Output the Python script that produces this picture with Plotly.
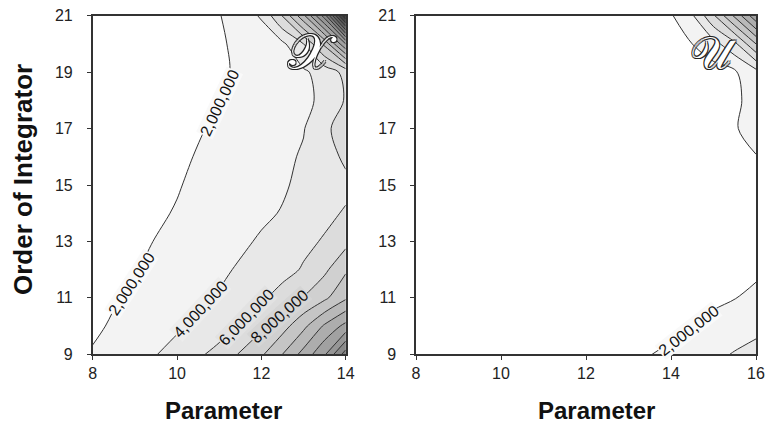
import numpy as np
import plotly.graph_objects as go

# ---------------- data (values in millions) ----------------
order_vals = [9, 10, 11, 12, 13, 14, 15, 16, 17, 18, 19, 20, 21]
param_left = [8, 9, 10, 11, 12, 12.5, 13, 13.5, 14]
param_right = [8, 10, 12, 13, 14, 14.5, 15, 15.5, 16]

z_left_m = [
    [2.15, 3.3, 4.6, 6.7, 9.7, 12.0, 14.7, 17.7, 23.0],   # 9
    [1.7, 2.7, 3.75, 5.0, 7.6, 9.2, 11.5, 14.3, 16.6],    # 10
    [1.45, 2.3, 3.3, 4.2, 5.7, 6.8, 8.1, 9.6, 11.7],      # 11
    [1.3, 1.9, 2.9, 3.6, 4.9, 5.3, 6.2, 7.6, 9.7],        # 12
    [1.15, 1.7, 2.4, 3.2, 4.2, 4.9, 5.5, 6.2, 7.4],       # 13
    [1.0, 1.5, 2.1, 2.9, 3.7, 4.1, 4.8, 5.5, 6.2],        # 14
    [0.9, 1.35, 1.9, 2.7, 3.4, 3.8, 4.4, 5.0, 5.5],       # 15
    [0.8, 1.2, 1.7, 2.5, 3.3, 3.6, 4.2, 5.1, 6.4],        # 16
    [0.7, 1.1, 1.6, 2.2, 3.1, 3.5, 3.9, 5.6, 6.9],        # 17
    [0.6, 1.0, 1.45, 2.0, 2.9, 3.4, 3.75, 4.25, 6.2],     # 18
    [0.55, 0.9, 1.3, 1.8, 2.6, 3.2, 3.7, 4.8, 6.6],       # 19
    [0.5, 0.8, 1.2, 1.8, 2.9, 3.6, 6.0, 10.5, 18.0],      # 20
    [0.5, 0.8, 1.2, 1.9, 4.2, 8.1, 13.5, 21.0, 34.0],     # 21
]

z_right_m = [
    [0.5, 0.7, 1.0, 1.5, 2.4, 2.8, 3.5, 4.15, 4.6],       # 9
    [0.4, 0.6, 0.9, 1.2, 1.5, 1.97, 2.4, 2.9, 3.5],       # 10
    [0.35, 0.5, 0.8, 1.0, 1.3, 1.5, 1.7, 1.95, 2.5],      # 11
    [0.3, 0.45, 0.7, 0.9, 1.1, 1.2, 1.35, 1.45, 1.6],     # 12
    [0.3, 0.4, 0.6, 0.8, 1.0, 1.1, 1.2, 1.3, 1.45],       # 13
    [0.3, 0.4, 0.55, 0.7, 0.9, 1.0, 1.1, 1.2, 1.4],       # 14
    [0.3, 0.4, 0.5, 0.65, 0.85, 0.95, 1.0, 1.1, 1.6],     # 15
    [0.3, 0.4, 0.5, 0.6, 0.8, 0.9, 1.0, 1.3, 1.95],       # 16
    [0.3, 0.4, 0.5, 0.6, 0.8, 0.9, 1.1, 1.9, 2.5],        # 17
    [0.3, 0.4, 0.5, 0.6, 0.8, 0.9, 1.1, 1.7, 2.6],        # 18
    [0.3, 0.4, 0.5, 0.6, 0.7, 0.9, 1.2, 1.75, 3.3],       # 19
    [0.3, 0.4, 0.5, 0.7, 1.3, 2.0, 3.3, 5.5, 10.0],       # 20
    [0.2, 0.3, 0.5, 0.9, 1.8, 3.75, 7.7, 12.4, 17.5],     # 21
]

# contour labels: text, panel, parameter, order, angle
label_text = ["2,000,000", "2,000,000", "4,000,000", "6,000,000", "8,000,000", "2,000,000"]
label_panel = ["left", "left", "left", "left", "left", "right"]
label_param = [11.0, 8.93, 10.55, 11.64, 12.43, 14.42]
label_order = [17.9, 11.5, 10.59, 10.3, 10.34, 9.85]
label_angle = [-65, -57, -47, -46, -42, -38]
label_bg = ["#f9f9f9", "#f9f9f9", "#ededed", "#e2e2e2", "#d5d5d5", "#f9f9f9"]

x_ticks_left = [8, 10, 12, 14]
x_ticks_right = [8, 10, 12, 14, 16]
y_ticks = [9, 11, 13, 15, 17, 19, 21]

z_left = np.array(z_left_m) * 1e6
z_right = np.array(z_right_m) * 1e6

# ---------------- styling ----------------
W, H = 767, 436
LINE = "#333333"
SMOOTH = 0.9
gray_scale = [[0.0, "#ffffff"], [0.5, "#8a8a8a"], [1.0, "#000000"]]
LEVEL = 2e6
TOP = 40e6
FONT = "Liberation Sans, Arial, sans-serif"


def fill_trace(x, z, xa, ya):
    return go.Contour(
        x=x, y=order_vals, z=z, xaxis=xa, yaxis=ya,
        autocontour=False,
        contours=dict(start=LEVEL, end=TOP, size=LEVEL, coloring="fill", showlines=True),
        colorscale=gray_scale, showscale=False,
        line=dict(width=1, color=LINE, smoothing=SMOOTH), hoverinfo="skip",
    )


fig = go.Figure()
fig.add_trace(fill_trace(param_left, z_left, "x", "y"))
fig.add_trace(fill_trace(param_right, z_right, "x2", "y2"))

left_dom = [92.7 / W, 345.7 / W]
right_dom = [416 / W, 756 / W]
y_dom = [(H - 354.3) / H, (H - 15.7) / H]

tickfont = dict(family=FONT, size=16, color="#222")
common = dict(showgrid=False, zeroline=False, showline=True, linecolor="#333", linewidth=1.5,
              mirror=True, ticks="outside", ticklen=4, tickwidth=1, tickcolor="#333",
              tickfont=tickfont, automargin=False)

fig.update_layout(
    width=W, height=H,
    margin=dict(l=0, r=0, t=0, b=0, autoexpand=False),
    paper_bgcolor="white", plot_bgcolor="white",
    showlegend=False,
    xaxis=dict(domain=left_dom, range=[8, 14], tickvals=x_ticks_left, anchor="y",
               ticklabelstandoff=0, **common),
    yaxis=dict(domain=y_dom, range=[9, 21], tickvals=y_ticks, anchor="x",
               ticklabelstandoff=11, **common),
    xaxis2=dict(domain=right_dom, range=[8, 16], tickvals=x_ticks_right, anchor="y2",
                ticklabelstandoff=0, **common),
    yaxis2=dict(domain=y_dom, range=[9, 21], tickvals=y_ticks, anchor="x2",
                ticklabelstandoff=11, **common),
)

for t, p, xv, yv, a, bg in zip(label_text, label_panel, label_param, label_order, label_angle, label_bg):
    xr, yr = ("x", "y") if p == "left" else ("x2", "y2")
    fig.add_annotation(text=t, xref=xr, yref=yr, x=xv, y=yv, textangle=a, showarrow=False,
                       bgcolor=bg, borderpad=0,
                       font=dict(family=FONT, size=16, color="#111"))

title_font = dict(family=FONT, size=24, color="#111", weight="bold")
ytitle_font = dict(family=FONT, size=26, color="#111", weight="bold")
outline = "1px 1px 0 #222, -1px -1px 0 #222, 1px -1px 0 #222, -1px 1px 0 #222"
fig.add_annotation(text="Order of Integrator", xref="paper", yref="paper",
                   x=23 / W, y=1 - 180 / H, textangle=-90, showarrow=False, font=ytitle_font,
                   xanchor="center", yanchor="middle")
fig.add_annotation(text="Parameter", xref="paper", yref="paper",
                   x=224 / W, y=1 - 410 / H, showarrow=False, font=title_font,
                   xanchor="center", yanchor="middle")
fig.add_annotation(text="Parameter", xref="paper", yref="paper",
                   x=596 / W, y=1 - 410 / H, showarrow=False, font=title_font,
                   xanchor="center", yanchor="middle")
fig.add_annotation(text="𝒳", xref="x", yref="y", x=13.22, y=19.8, showarrow=False,
                   font=dict(size=50, color="white", shadow=outline))
fig.add_annotation(text="𝒰", xref="x2", yref="y2", x=15.0, y=19.75, showarrow=False,
                   font=dict(size=46, color="white", shadow=outline))

fig.write_html("out.html", config={"displayModeBar": False, "responsive": False},
               post_script="document.body.style.margin='0px';document.body.style.overflow='hidden';")
